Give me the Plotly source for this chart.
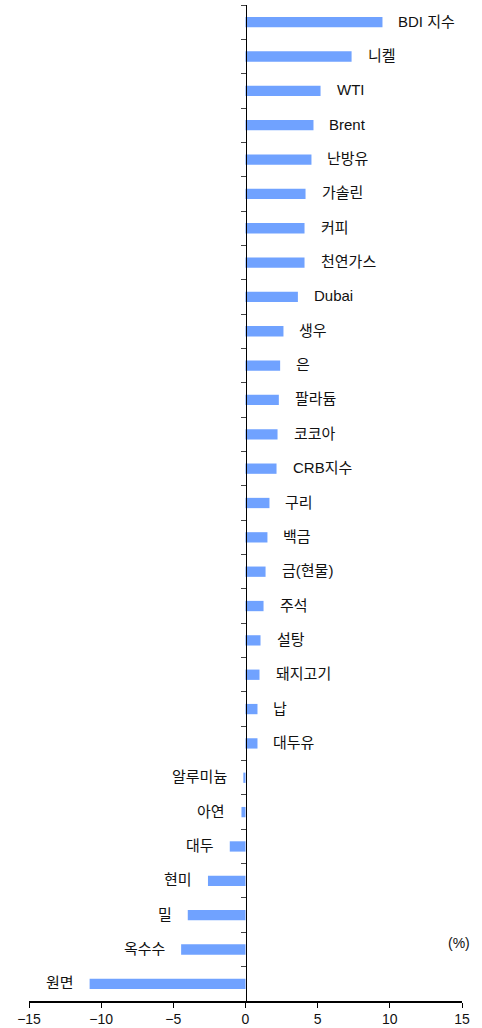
import plotly.graph_objects as go

categories = ["BDI 지수", "니켈", "WTI", "Brent", "난방유", "가솔린", "커피", "천연가스", "Dubai",
              "생우", "은", "팔라듐", "코코아", "CRB지수", "구리", "백금", "금(현물)", "주석", "설탕",
              "돼지고기", "납", "대두유", "알루미늄", "아연", "대두", "현미", "밀", "옥수수", "원면"]
values = [9.49, 7.35, 5.2, 4.71, 4.57, 4.16, 4.09, 4.09, 3.63,
          2.63, 2.4, 2.31, 2.22, 2.15, 1.66, 1.52, 1.39, 1.25, 1.04,
          0.97, 0.83, 0.83, -0.15, -0.28, -1.09, -2.6, -4.0, -4.46, -10.8]
x_ticks = [-15, -10, -5, 0, 5, 10, 15]

FONT = "Liberation Sans, Noto Sans CJK KR, sans-serif"

fig = go.Figure()
fig.add_trace(go.Bar(
    x=values, y=categories, orientation="h",
    marker=dict(color="#70A2FF", line=dict(width=0)),
    width=0.3, hoverinfo="skip",
))

annotations = []
for c, v in zip(categories, values):
    annotations.append(dict(
        x=v, y=c, xref="x", yref="y", text=c, showarrow=False,
        xanchor="left" if v >= 0 else "right",
        xshift=14 if v >= 0 else -14, yshift=1,
        font=dict(family=FONT, size=15, color="#111"),
    ))
annotations.append(dict(
    x=1.023, y=0.058, xref="paper", yref="paper", text="(%)", showarrow=False,
    xanchor="right", yanchor="middle", font=dict(family=FONT, size=14, color="#111"),
))

fig.update_layout(
    width=482, height=1028,
    margin=dict(l=29, r=20, t=5, b=27, autoexpand=False),
    paper_bgcolor="white", plot_bgcolor="white",
    showlegend=False,
    annotations=annotations,
    font=dict(family=FONT, size=14, color="#111"),
    xaxis=dict(
        range=[-15, 15], tickvals=x_ticks, showgrid=False, zeroline=False,
        showline=True, linecolor="black", linewidth=1.5, automargin=False,
        ticks="outside", ticklen=5, tickcolor="black", tickwidth=1,
        tickfont=dict(family=FONT, size=14, color="#111"),
    ),
    yaxis=dict(
        categoryorder="array", categoryarray=categories, autorange="reversed",
        showticklabels=False, showgrid=False, zeroline=False, automargin=False,
        showline=True, linecolor="black", linewidth=1.5,
        anchor="free", position=0.5,
        ticks="outside", tickson="boundaries", ticklen=5, tickcolor="#444", tickwidth=1,
    ),
)

fig.write_html("out.html", config={"displayModeBar": False, "staticPlot": True},
               post_script="document.body.style.margin='0';document.body.style.overflow='hidden';")
